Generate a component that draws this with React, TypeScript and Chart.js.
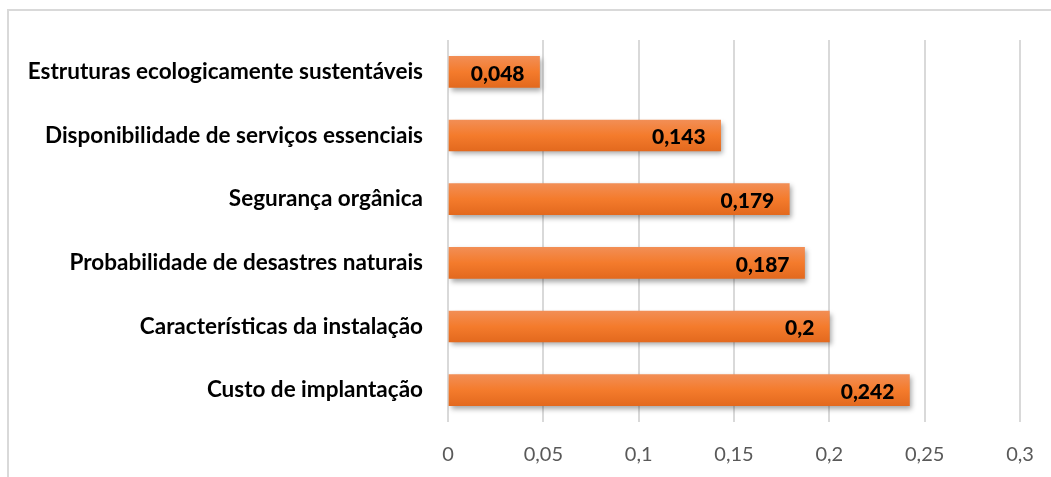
import React, { useEffect, useRef } from "react";
import { Chart, registerables } from "chart.js";

Chart.register(...registerables);

const categories = [
  "Estruturas ecologicamente sustentáveis",
  "Disponibilidade de serviços essenciais",
  "Segurança orgânica",
  "Probabilidade de desastres naturais",
  "Características da instalação",
  "Custo de implantação",
];
const values = [0.048, 0.143, 0.179, 0.187, 0.2, 0.242];
const xMin = 0;
const xMax = 0.3;
const xStep = 0.05;

const fmt = (v: number) => String(Math.round(v * 1000) / 1000).replace(".", ",");

const FONT = "Lato, 'Open Sans', sans-serif";

const shadowPlugin = {
  id: "barShadow",
  beforeDatasetsDraw(chart: any) {
    const ctx = chart.ctx;
    ctx.save();
    ctx.shadowColor = "rgba(0,0,0,0.35)";
    ctx.shadowBlur = 5;
    ctx.shadowOffsetX = 2;
    ctx.shadowOffsetY = 3;
  },
  afterDatasetsDraw(chart: any) {
    chart.ctx.restore();
  },
};

const labelPlugin = {
  id: "valueLabels",
  afterDatasetsDraw(chart: any) {
    const ctx = chart.ctx;
    const meta = chart.getDatasetMeta(0);
    ctx.save();
    ctx.font = `900 21px ${FONT}`;
    ctx.fillStyle = "#000000";
    ctx.textAlign = "right";
    ctx.textBaseline = "middle";
    meta.data.forEach((bar: any, i: number) => {
      ctx.fillText(fmt(values[i]), bar.x - 15, bar.y + 2);
    });
    ctx.restore();
  },
};

export default function App() {
  const ref = useRef<HTMLCanvasElement>(null);
  useEffect(() => {
    if (!ref.current) return;
    const chart = new Chart(ref.current, {
      type: "bar",
      data: {
        labels: categories,
        datasets: [
          {
            data: values,
            backgroundColor: (c: any) => {
              const ch = c.chart;
              const ys = ch.scales && ch.scales.y;
              if (!ys || c.dataIndex === undefined) return "#f07a2c";
              const yc = ys.getPixelForValue(c.dataIndex);
              if (!isFinite(yc)) return "#f07a2c";
              const h = 31;
              const g = ch.ctx.createLinearGradient(0, yc - h / 2, 0, yc + h / 2);
              g.addColorStop(0, "#f28e55");
              g.addColorStop(0.5, "#f47b2c");
              g.addColorStop(1, "#e3691e");
              return g;
            },
            borderWidth: 0,
            barThickness: 31,
          },
        ],
      },
      options: {
        indexAxis: "y",
        animation: false,
        responsive: false,
        events: [],
        layout: { padding: { top: 40, right: 31, left: 0, bottom: 0 } },
        plugins: { legend: { display: false }, tooltip: { enabled: false } },
        scales: {
          x: {
            min: xMin,
            max: xMax,
            ticks: {
              stepSize: xStep,
              color: "#595959",
              font: { family: FONT, size: 20 },
              padding: 21,
              callback: (v: any) => fmt(Number(v)),
            },
            grid: { color: "#d9d9d9", lineWidth: 2, drawTicks: false },
            border: { display: false },
            afterFit: (s: any) => {
              s.height = 55;
              s.paddingLeft = 0;
              s.paddingRight = 0;
            },
          },
          y: {
            ticks: {
              color: "#000000",
              font: { family: FONT, size: 22.5, weight: "bold" },
              padding: 25,
            },
            grid: { display: false, drawTicks: false },
            border: { display: false },
            afterFit: (s: any) => {
              s.width = 448;
              s.paddingTop = 0;
              s.paddingBottom = 0;
            },
          },
        },
      },
      plugins: [shadowPlugin, labelPlugin],
    });
    return () => chart.destroy();
  }, []);
  return (
    <>
      <style>{`html,body{margin:0;padding:0;overflow:hidden;background:#fff}`}</style>
      <div
        style={{
          position: "absolute",
          left: 7,
          top: 9,
          width: 1060,
          height: 480,
          borderTop: "2px solid #d9d9d9",
          borderLeft: "2px solid #d9d9d9",
          boxSizing: "border-box",
        }}
      />
      <canvas
        ref={ref}
        width={1051}
        height={477}
        style={{ position: "absolute", left: 0, top: 0, width: 1051, height: 477 }}
      />
    </>
  );
}
